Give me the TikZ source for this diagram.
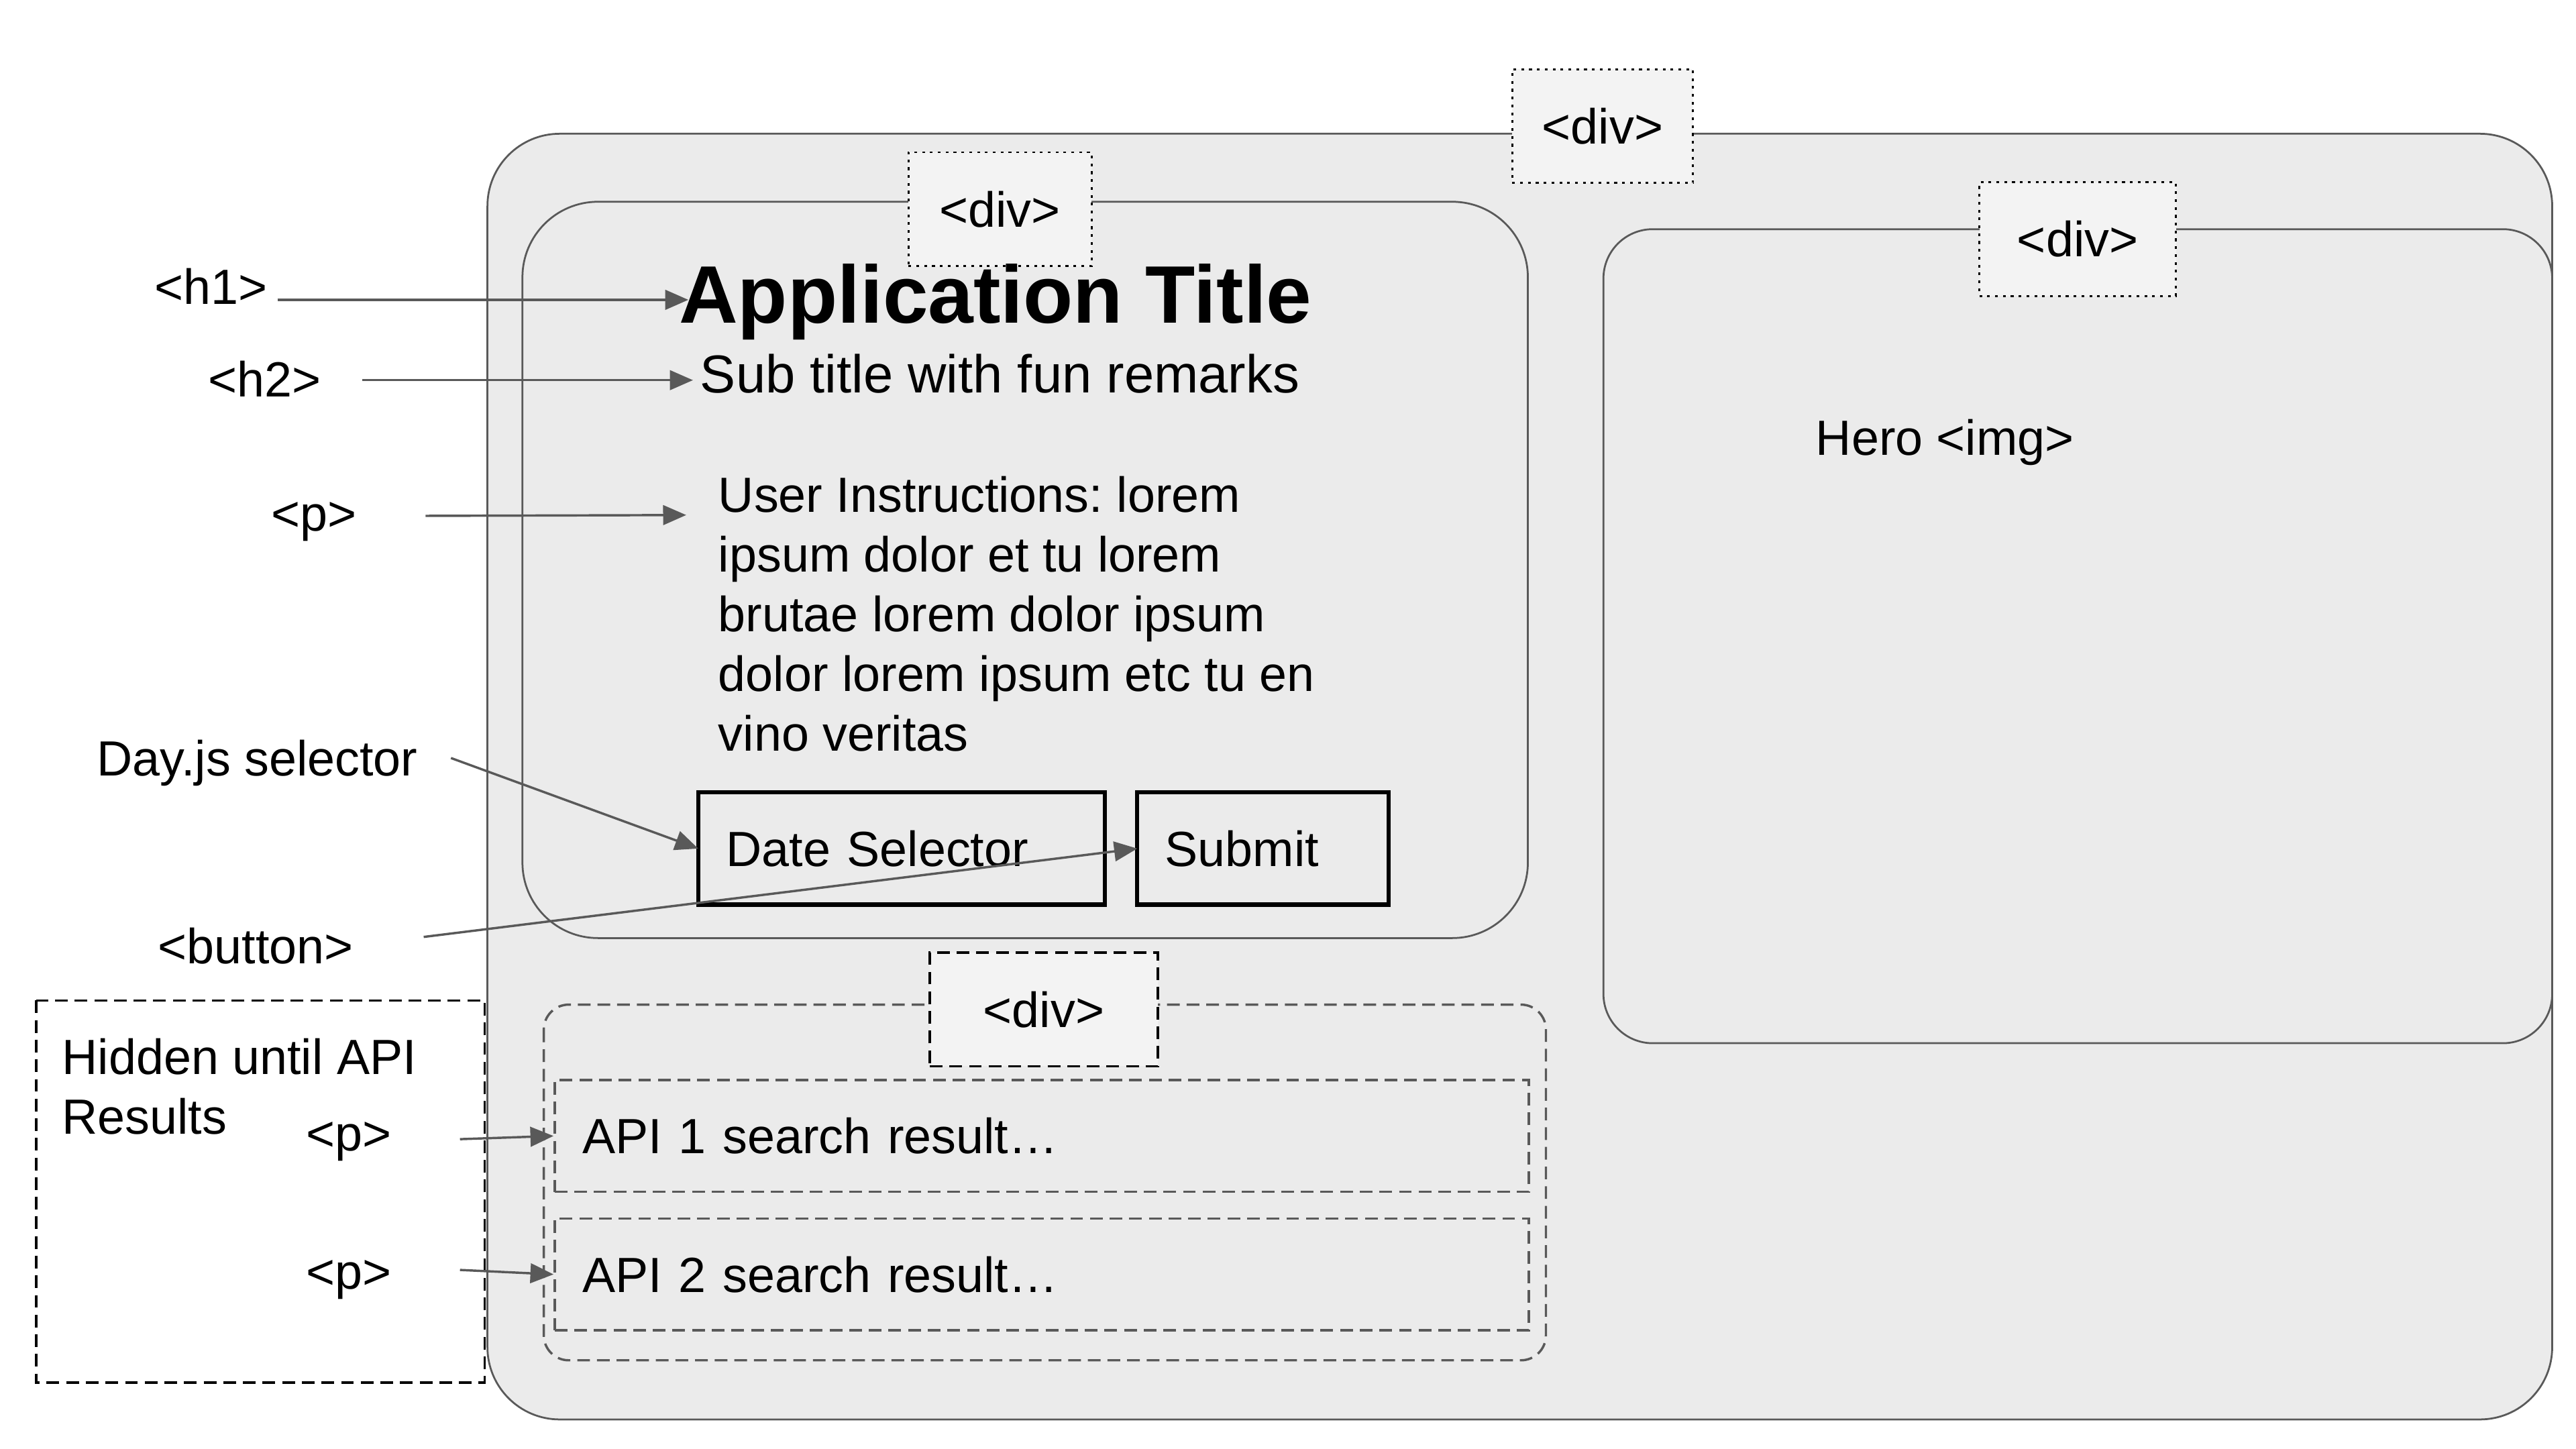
\documentclass[tikz,border=0pt]{standalone}
\usepackage{fontspec}
\setmainfont{Liberation Sans}
\usetikzlibrary{arrows.meta, positioning}
\definecolor{lineGray}{HTML}{595959}
\definecolor{boxFill}{HTML}{EBEBEB}
\definecolor{tagFill}{HTML}{F3F3F3}
\newcommand{\txtsize}{\fontsize{21.4pt}{25.9pt}\selectfont}
\newcommand{\subsize}{\fontsize{23.1pt}{27pt}\selectfont}
\newcommand{\titlesize}{\fontsize{35.3pt}{40pt}\selectfont}
\frenchspacing

\begin{document}
\begin{tikzpicture}[x=0.025cm, y=-0.025cm, >={Triangle[length=10pt, width=8.5pt]},
    container/.style={draw=lineGray, fill=boxFill, line width=0.8pt},
    tagbox/.style={draw=black, fill=tagFill, line width=0.8pt, dash pattern=on 1.2pt off 2.2pt,
        inner sep=0pt, minimum height=1.73cm, font=\txtsize},
    resultbox/.style={draw=lineGray, line width=1pt, dash pattern=on 5.5pt off 3pt,
        minimum width=14.82cm, minimum height=1.70cm, text width=13.97cm, align=left,
        inner xsep=0.425cm, inner ysep=0pt, font=\txtsize},
    buttonbox/.style={draw=black, line width=1.8pt, minimum height=1.705cm, inner ysep=0pt,
        inner xsep=0.42cm, outer sep=0pt, anchor=west, font=\txtsize},
    txt/.style={anchor=base west, inner sep=0pt, font=\txtsize},
    arr/.style={->, draw=lineGray, line width=1pt}]
    \useasboundingbox (0,0) rectangle (1568,882);

    % page and its three blocks
    \draw[container, rounded corners=1.1cm] (296.7,81.4) rectangle (1553.5,864);
    \node[tagbox, minimum width=2.75cm] (outerTag) at (975.5,76.75) {<div>};

    \draw[container, rounded corners=1.15cm] (318,122.8) rectangle (930,571);
    \node[tagbox, minimum width=2.785cm] (headerTag) at (608.7,127.3) {<div>};

    \draw[container, rounded corners=0.75cm] (976,139.5) rectangle (1553.5,635);
    \node[tagbox, minimum width=2.99cm] (heroTag) at (1264.65,145.6) {<div>};

    \draw[black, line width=1.1pt, dash pattern=on 5.5pt off 3pt] (21.9,609) rectangle (295,841.6);
    \draw[draw=lineGray, line width=1pt, dash pattern=on 5.5pt off 3pt, rounded corners=0.38cm]
        (331,611.5) rectangle (941,828);
    \node[resultbox] (api1) at (634.1,691.45) {API 1 search result…};
    \node[resultbox] (api2) at (634.1,775.7) {API 2 search result…};
    \node[tagbox, dash pattern=on 5.5pt off 3pt, line width=1pt, minimum width=3.47cm]
        (resultsTag) at (635.35,614.4) {<div>};

    % contents
    \node[anchor=base west, inner sep=0pt, font=\titlesize\bfseries] (title) at (413,196.6) {Application Title};
    \node[anchor=base west, inner sep=0pt, font=\subsize] (subtitle) at (426,238.9) {Sub title with fun remarks};
    \foreach \ln [count=\i from 0] in {User Instructions: lorem, ipsum dolor et tu lorem,
        brutae lorem dolor ipsum, dolor lorem ipsum etc tu en, vino veritas}
        \node[txt] (instr\i) at (437,{311.7+36.4*\i}) {\ln};
    \node[buttonbox, minimum width=6.19cm, text width=5.34cm] (datesel) at (425,516.5) {Date Selector};
    \node[buttonbox, minimum width=3.825cm, text width=2.985cm, right=0.49cm of datesel] (submit) {Submit};
    \node[txt] (hero) at (1105,277) {Hero <img>};

    % labels on the left
    \node[txt] (h1) at (94,185) {<h1>};
    \node[txt] (h2) at (126.6,241.7) {<h2>};
    \node[txt] (para) at (165,323.3) {<p>};
    \node[txt] (dayjs) at (58.8,472.3) {Day.js selector};
    \node[txt] (button) at (96,586.6) {<button>};
    \node[txt] (hidden1) at (37.5,654) {Hidden until API};
    \node[txt] (hidden2) at (37.5,690.4) {Results};
    \node[txt] (p1) at (186,700.3) {<p>};
    \node[txt] (p2) at (186,784.7) {<p>};

    \coordinate (h1from) at (169,182.5);
    \coordinate (h1to) at (419,182.5);
    \coordinate (h2from) at (220.5,231.4);
    \coordinate (h2to) at (421.8,231.4);
    \coordinate (parafrom) at (259,314);
    \coordinate (parato) at (417.7,313.5);
    \coordinate (dayjsfrom) at (274.5,461.4);
    \coordinate (buttonfrom) at (257.9,570.3);
    \coordinate (p1from) at (280,693.4);
    \coordinate (p2from) at (280,773);

    \draw[arr] (h1from) -- (h1to);
    \draw[arr] (h2from) -- (h2to);
    \draw[arr] (parafrom) -- (parato);
    \draw[arr] (dayjsfrom) -- (datesel.west);
    \draw[arr] (buttonfrom) -- (submit.west);
    \draw[arr] (p1from) -- (api1.west);
    \draw[arr] (p2from) -- (api2.west);
\end{tikzpicture}
\end{document}
